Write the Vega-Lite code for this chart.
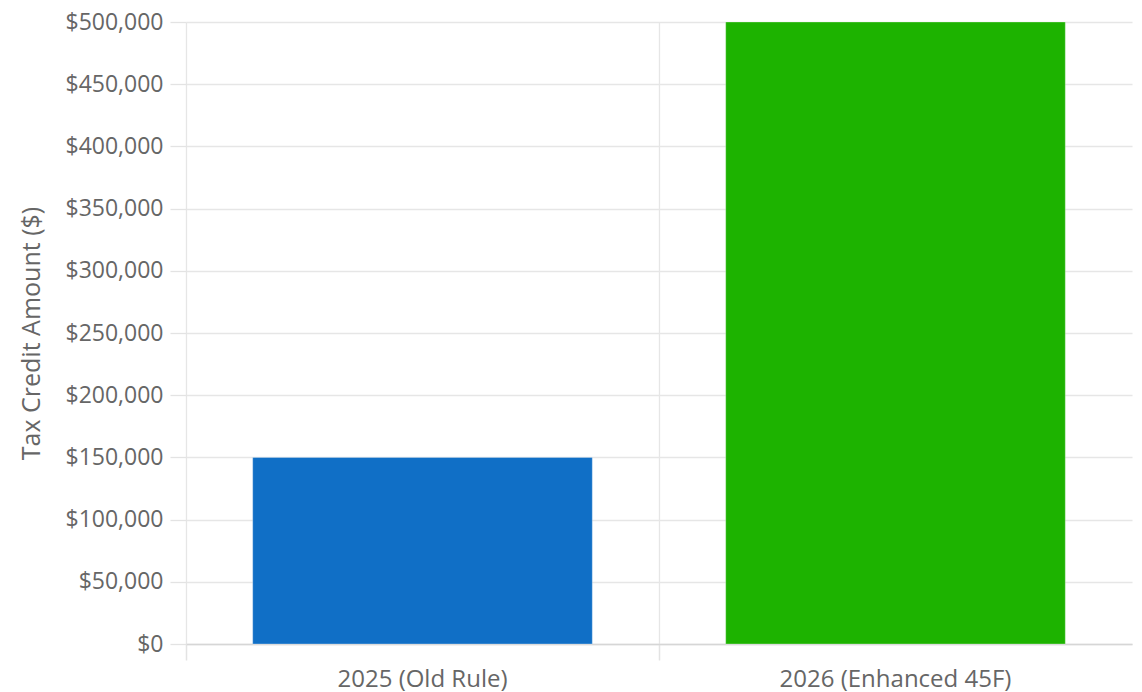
{
  "$schema": "https://vega.github.io/schema/vega-lite/v6.json",
  "autosize": {"type": "none"},
  "padding": {"left": 186, "top": 22, "right": 10, "bottom": 48},
  "width": 946,
  "height": 622,
  "background": "white",
  "config": {
    "font": "Open Sans",
    "view": {"stroke": null}
  },
  "data": {
    "values": [
      {"year": "2025 (Old Rule)", "credit": 150000},
      {"year": "2026 (Enhanced 45F)", "credit": 500000}
    ]
  },
  "mark": {"type": "bar", "width": {"band": 0.718}, "stroke": "white", "strokeWidth": 0.5, "strokeOpacity": 0.6},
  "encoding": {
    "x": {
      "field": "year",
      "type": "nominal",
      "sort": null,
      "scale": {"paddingInner": 0, "paddingOuter": 0},
      "axis": {
        "title": null,
        "labelAngle": 0,
        "labelFontSize": 24,
        "labelColor": "#666666",
        "labelPadding": 7,
        "labelLimit": 0,
        "tickSize": 16,
        "tickColor": "#e3e3e3",
        "tickWidth": 1.5,
        "bandPosition": 0,
        "gridColor": "#e6e6e6",
        "gridWidth": 1.3,
        "grid": true,
        "domainColor": "#d6d6d6",
        "domainWidth": 1.5
      }
    },
    "y": {
      "field": "credit",
      "type": "quantitative",
      "scale": {"domain": [0, 500000], "nice": false},
      "axis": {
        "title": "Tax Credit Amount ($)",
        "titleFontSize": 25,
        "titleFontWeight": "normal",
        "titleColor": "#666666",
        "titleX": -155,
        "titleBaseline": "middle",
        "format": "$,.0f",
        "values": [0, 50000, 100000, 150000, 200000, 250000, 300000, 350000, 400000, 450000, 500000],
        "labelOverlap": false,
        "labelFontSize": 23,
        "labelColor": "#666666",
        "labelPadding": 7,
        "tickSize": 16,
        "tickColor": "#e3e3e3",
        "tickWidth": 1.3,
        "gridColor": "#e6e6e6",
        "gridWidth": 1.3,
        "domain": false
      }
    },
    "color": {
      "field": "year",
      "type": "nominal",
      "scale": {"range": ["#106fc6", "#1db300"]},
      "legend": null
    }
  }
}
